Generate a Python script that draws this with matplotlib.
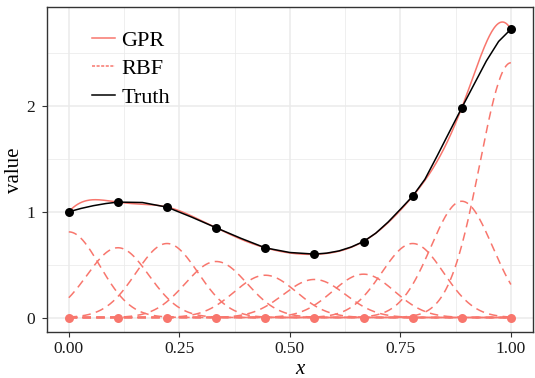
import numpy as np
import matplotlib
matplotlib.use("Agg")
import matplotlib.pyplot as plt
from matplotlib.lines import Line2D

# ---- data ----
centers = [0.0, 1/9, 2/9, 3/9, 4/9, 5/9, 6/9, 7/9, 8/9, 1.0]
obs_y = [1.0, 1.092, 1.044, 0.849, 0.659, 0.600, 0.719, 1.148, 1.984, 2.728]
rbf_weights = [0.81, 0.66, 0.70, 0.53, 0.40, 0.36, 0.41, 0.70, 1.10, 2.41]
lengthscale = 0.07

truth_x = [0.0, 1/36, 2/36, 3/36, 4/36, 6/36, 8/36, 10/36, 12/36, 14/36, 16/36, 18/36,
           20/36, 21/36, 22/36, 23/36, 24/36, 25/36, 26/36, 27/36, 28/36, 29/36,
           30/36, 31/36, 32/36, 33/36, 34/36, 35/36, 1.0]
truth_y = [1.0, 1.032, 1.058, 1.078, 1.092, 1.088, 1.044, 0.950, 0.849, 0.750, 0.659,
           0.615, 0.600, 0.609, 0.630, 0.667, 0.719, 0.798, 0.903, 1.024, 1.148, 1.308,
           1.530, 1.758, 1.984, 2.206, 2.427, 2.612, 2.728]

x_ticks = [0.0, 0.25, 0.5, 0.75, 1.0]
x_ticklabels = ["0.00", "0.25", "0.50", "0.75", "1.00"]
y_ticks = [0, 1, 2]
y_ticklabels = ["0", "1", "2"]

RED = "#F8766D"
plt.rcParams['font.family'] = ['Liberation Serif', 'DejaVu Serif']

fig = plt.figure(figsize=(5.35, 3.78), dpi=100)
ax = fig.add_axes([46.7/535, (378-332.3)/378, (533-46.7)/535, (332.3-7.3)/378])

xs = np.linspace(0, 1, 600)
c = np.array(centers)
w = np.array(rbf_weights)
basis = w[None, :] * np.exp(-(xs[:, None] - c[None, :])**2 / (2*lengthscale**2))
gpr = basis.sum(axis=1)

for j in range(len(centers)):
    ax.plot(xs, basis[:, j], color=RED, lw=1.1, dashes=(5.5, 3.5), zorder=3)
ax.plot(xs, gpr, color=RED, lw=1.1, zorder=4)
ax.plot(truth_x, truth_y, color="black", lw=1.1, zorder=5)
ax.scatter(centers, [0]*len(centers), s=42, color=RED, zorder=6, linewidths=0)
ax.scatter(centers, obs_y, s=42, color="black", zorder=7, linewidths=0)

ax.set_xlim(-0.05, 1.05)
ax.set_ylim(-0.14, 2.935)
ax.set_xticks(x_ticks)
ax.set_xticklabels(x_ticklabels)
ax.set_yticks(y_ticks)
ax.set_yticklabels(y_ticklabels)
ax.set_xticks([0.125, 0.375, 0.625, 0.875], minor=True)
ax.set_yticks([0.5, 1.5, 2.5], minor=True)
ax.grid(True, which='major', color='#EBEBEB', lw=1.1, zorder=0)
ax.grid(True, which='minor', color='#EBEBEB', lw=0.55, zorder=0)
ax.set_axisbelow(True)
ax.tick_params(which='minor', length=0)
ax.tick_params(which='major', length=3.5, width=0.8, color='#333333',
               labelsize=12.5, labelcolor='#1a1a1a')
ax.tick_params(axis='y', pad=5)
ax.tick_params(axis='x', pad=3)
for s in ax.spines.values():
    s.set_color('#333333')
    s.set_linewidth(1.0)

ax.set_xlabel("x", fontsize=15, style='italic')
ax.set_ylabel("value", fontsize=15)
ax.xaxis.set_label_coords((300-46.7)/486.3, -0.085)
ax.yaxis.set_label_coords(-0.046, 0.5)

handles = [Line2D([], [], color=RED, lw=1.1),
           Line2D([], [], color=RED, lw=1.1, dashes=(2, 1)),
           Line2D([], [], color='black', lw=1.1)]
ax.legend(handles, ["GPR", "RBF", "Truth"], loc='upper left',
          bbox_to_anchor=(0.094, 0.93), frameon=False, fontsize=16,
          handlelength=1.0, handletextpad=0.3, labelspacing=0.36,
          borderpad=0, borderaxespad=0)

fig.savefig("out.png", dpi=100)
